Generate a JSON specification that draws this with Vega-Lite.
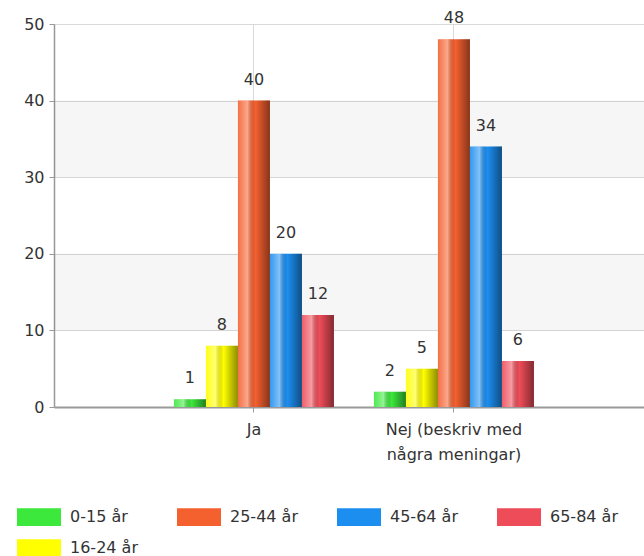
{
  "$schema": "https://vega.github.io/schema/vega-lite/v6.json",
  "width": 590,
  "height": 383,
  "autosize": "none",
  "padding": {"left": 54, "top": 24, "right": 0, "bottom": 149},
  "config": {
    "font": "DejaVu Sans",
    "view": {"stroke": null},
    "legend": {
      "orient": "none",
      "legendX": -37,
      "legendY": 471,
      "columns": 4,
      "direction": "horizontal",
      "symbolType": "M-1,-0.4H1V0.4H-1Z",
      "symbolSize": 1936,
      "symbolStrokeWidth": 0,
      "symbolOpacity": 1,
      "labelFontSize": 16,
      "labelColor": "#333333",
      "labelOffset": 9,
      "columnPadding": 39,
      "rowPadding": -19
    }
  },
  "datasets": {
    "bars": [
      {"answer": "Ja", "group": "0-15 år", "value": 1},
      {"answer": "Ja", "group": "16-24 år", "value": 8},
      {"answer": "Ja", "group": "25-44 år", "value": 40},
      {"answer": "Ja", "group": "45-64 år", "value": 20},
      {"answer": "Ja", "group": "65-84 år", "value": 12},
      {"answer": "Nej (beskriv med några meningar)", "group": "0-15 år", "value": 2},
      {"answer": "Nej (beskriv med några meningar)", "group": "16-24 år", "value": 5},
      {"answer": "Nej (beskriv med några meningar)", "group": "25-44 år", "value": 48},
      {"answer": "Nej (beskriv med några meningar)", "group": "45-64 år", "value": 34},
      {"answer": "Nej (beskriv med några meningar)", "group": "65-84 år", "value": 6}
    ],
    "bands": [
      {"lo": 10, "hi": 20},
      {"lo": 30, "hi": 40}
    ]
  },
  "layer": [
    {
      "data": {"name": "bands"},
      "mark": {"type": "rect", "fill": "#000000", "opacity": 0.035},
      "encoding": {
        "y": {"field": "lo", "type": "quantitative", "scale": {"domain": [0, 50]},
          "axis": {"title": null, "values": [0, 10, 20, 30, 40, 50], "grid": true, "gridColor": "#d9d9d9", "domainColor": "#999999", "domainWidth": 1.5, "tickColor": "#999999", "tickSize": 5, "labelPadding": 5, "labelFontSize": 16, "labelColor": "#333333"}},
        "y2": {"field": "hi"}
      }
    },
    {
      "data": {"name": "bars"},
      "mark": {"type": "bar"},
      "encoding": {
        "x": {"field": "answer", "type": "nominal", "sort": null,
          "scale": {"paddingInner": 0, "paddingOuter": 0.475, "align": 0.526},
          "axis": {"title": null, "labelAngle": 0, "tickBand": "center", "grid": true, "gridColor": "#d9d9d9", "domainColor": "#999999", "domainWidth": 2, "tickColor": "#999999", "tickSize": 5, "labelPadding": 9, "labelFontSize": 16, "labelColor": "#333333", "labelBaseline": "top", "labelLineHeight": 25,
            "labelExpr": "datum.label == 'Nej (beskriv med några meningar)' ? ['Nej (beskriv med', 'några meningar)'] : datum.label"}},
        "xOffset": {"field": "group", "type": "nominal", "scale": {"paddingInner": 0, "paddingOuter": 0.625}},
        "y": {"field": "value", "type": "quantitative", "scale": {"domain": [0, 50]},
          "axis": {"title": null, "values": [0, 10, 20, 30, 40, 50], "grid": true, "gridColor": "#d9d9d9", "domainColor": "#999999", "domainWidth": 1.5, "tickColor": "#999999", "tickSize": 5, "labelPadding": 5, "labelFontSize": 16, "labelColor": "#333333"}},
        "color": {"field": "group", "type": "nominal",
          "scale": {"domain": ["0-15 år", "25-44 år", "45-64 år", "65-84 år", "16-24 år"],
                    "range": ["#3be83b", "#f5602f", "#1c8ef0", "#ee4c58", "#ffff00"]},
          "legend": {"title": null}}
      }
    },
    {
      "data": {"name": "bars"},
      "mark": {"type": "bar",
        "fill": {"gradient": "linear", "x1": 0, "x2": 1, "y1": 0, "y2": 0,
          "stops": [
            {"offset": 0, "color": "rgba(255,255,255,0.1)"},
            {"offset": 0.3, "color": "rgba(255,255,255,0.45)"},
            {"offset": 0.55, "color": "rgba(0,0,0,0)"},
            {"offset": 1, "color": "rgba(0,0,0,0.45)"}
          ]}},
      "encoding": {
        "x": {"field": "answer", "type": "nominal", "sort": null},
        "xOffset": {"field": "group", "type": "nominal"},
        "y": {"field": "value", "type": "quantitative"}
      }
    },
    {
      "data": {"name": "bars"},
      "mark": {"type": "text", "baseline": "alphabetic", "dy": -16, "fontSize": 16, "color": "#333333"},
      "encoding": {
        "x": {"field": "answer", "type": "nominal", "sort": null},
        "xOffset": {"field": "group", "type": "nominal"},
        "y": {"field": "value", "type": "quantitative"},
        "text": {"field": "value", "type": "quantitative"}
      }
    }
  ]
}
